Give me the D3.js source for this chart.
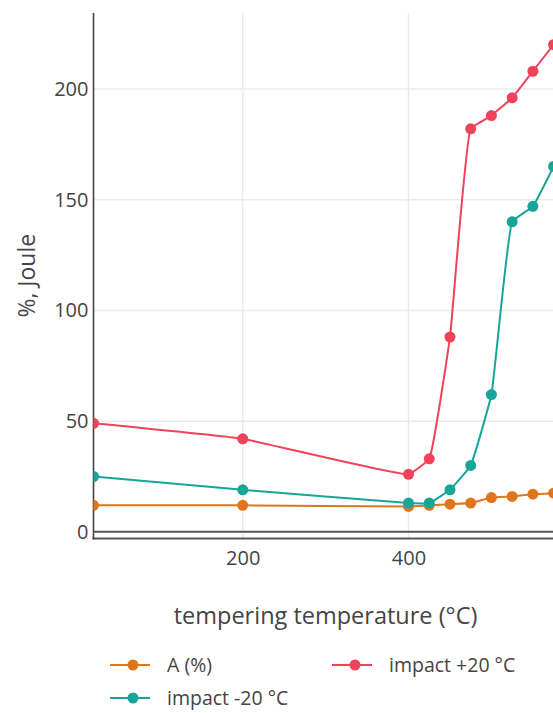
<!DOCTYPE html>
<html>
<head>
<meta charset="utf-8">
<script src="https://cdn.jsdelivr.net/npm/d3@7"></script>
<style>
  html, body { margin: 0; padding: 0; background: #fff; overflow: hidden; }
  svg { display: block; font-family: "Open Sans", sans-serif; }
</style>
</head>
<body>
<svg id="chart" width="553" height="713"></svg>
<script>
// Tempering temperature (°C)
const temps = [20, 200, 400, 425, 450, 475, 500, 525, 550, 575];
// Elongation A (%)
const elongation = [12, 12, 11.5, 12, 12.5, 13, 15.5, 16, 17, 17.5];
// Impact energy at +20 °C (J)
const impactPlus20 = [49, 42, 26, 33, 88, 182, 188, 196, 208, 220];
// Impact energy at -20 °C (J)
const impactMinus20 = [25, 19, 13, 13, 19, 30, 62, 140, 147, 165];

const xTicks = [200, 400];
const yTicks = [0, 50, 100, 150, 200];

const seriesNames = ["A (%)", "impact +20 °C", "impact -20 °C"];
const seriesColors = ["#e0761c", "#f0435a", "#16a697"];
const seriesValues = [elongation, impactPlus20, impactMinus20];

const svg = d3.select("#chart");
const plot = { left: 93.5, right: 553.6, top: 13, bottom: 538.4 };

const x = d3.scaleLinear().domain([20, 575]).range([plot.left, plot.right]);
const y = d3.scaleLinear().domain([-2.95, 234.3]).range([plot.bottom, plot.top]);

svg.append("defs").append("clipPath").attr("id", "plotClip")
  .append("rect")
  .attr("x", plot.left).attr("y", plot.top)
  .attr("width", plot.right - plot.left).attr("height", plot.bottom - plot.top);

// grid
const grid = svg.append("g");
grid.selectAll("line.gx").data(xTicks).join("line")
  .attr("x1", d => x(d)).attr("x2", d => x(d))
  .attr("y1", plot.top).attr("y2", plot.bottom)
  .attr("stroke", "#ebebeb").attr("stroke-width", 1.5);
grid.selectAll("line.gy").data(yTicks.filter(d => d !== 0)).join("line")
  .attr("x1", plot.left).attr("x2", plot.right)
  .attr("y1", d => y(d)).attr("y2", d => y(d))
  .attr("stroke", "#ebebeb").attr("stroke-width", 1.5);

// zero line
svg.append("line")
  .attr("x1", plot.left).attr("x2", plot.right + 5)
  .attr("y1", y(0)).attr("y2", y(0))
  .attr("stroke", "#555").attr("stroke-width", 2);

// axes
const xAxis = d3.axisBottom(x).tickValues(xTicks).tickSize(0).tickPadding(12).tickFormat(d3.format("d"));
const gx = svg.append("g").attr("transform", `translate(0,${plot.bottom})`).call(xAxis);
gx.select(".domain").remove();
gx.selectAll("text").attr("fill", "#444").attr("font-size", 20).attr("font-family", "Open Sans");
svg.append("line")
  .attr("x1", plot.left - 1).attr("x2", plot.right + 5)
  .attr("y1", plot.bottom).attr("y2", plot.bottom)
  .attr("stroke", "#555").attr("stroke-width", 2);

const yAxis = d3.axisLeft(y).tickValues(yTicks).tickSize(0).tickPadding(5).tickFormat(d3.format("d"));
const gy = svg.append("g").attr("transform", `translate(${plot.left},0)`).call(yAxis);
gy.select(".domain").remove();
gy.selectAll("text").attr("fill", "#444").attr("font-size", 20).attr("font-family", "Open Sans");
svg.append("line")
  .attr("x1", plot.left).attr("x2", plot.left)
  .attr("y1", plot.top).attr("y2", plot.bottom + 1)
  .attr("stroke", "#444").attr("stroke-width", 1.6);

// axis titles
svg.append("text")
  .attr("x", (plot.left + plot.right) / 2 + 2).attr("y", 624)
  .attr("text-anchor", "middle").attr("fill", "#444").attr("font-size", 23.5)
  .text("tempering temperature (°C)");
svg.append("text")
  .attr("transform", `translate(35,${(plot.top + plot.bottom) / 2}) rotate(-90)`)
  .attr("text-anchor", "middle").attr("fill", "#444").attr("font-size", 23)
  .text("%, Joule");

// Lightly smoothed spline through points: Catmull-Rom style tangents,
// quadratic end segments, cubic segments between interior points.
function splinePath(pts, smoothness) {
  if (pts.length < 3) return "M" + pts.join("L");
  const tangent = (p0, p1, p2) => {
    const d1x = p0[0] - p1[0], d1y = p0[1] - p1[1];
    const d2x = p2[0] - p1[0], d2y = p2[1] - p1[1];
    const d1a = Math.pow(d1x * d1x + d1y * d1y, 0.25);
    const d2a = Math.pow(d2x * d2x + d2y * d2y, 0.25);
    const nx = (d2a * d2a * d1x - d1a * d1a * d2x) * smoothness;
    const ny = (d2a * d2a * d1y - d1a * d1a * d2y) * smoothness;
    const den1 = 3 * d2a * (d1a + d2a);
    const den2 = 3 * d1a * (d1a + d2a);
    return [
      [p1[0] + (den1 && nx / den1), p1[1] + (den1 && ny / den1)],
      [p1[0] - (den2 && nx / den2), p1[1] - (den2 && ny / den2)]
    ];
  };
  const t = [];
  for (let i = 1; i < pts.length - 1; i++) t.push(tangent(pts[i - 1], pts[i], pts[i + 1]));
  let p = "M" + pts[0] + "Q" + t[0][0] + " " + pts[1];
  for (let i = 2; i < pts.length - 1; i++) {
    p += "C" + t[i - 2][1] + " " + t[i - 1][0] + " " + pts[i];
  }
  p += "Q" + t[pts.length - 3][1] + " " + pts[pts.length - 1];
  return p;
}

// series
const plotG = svg.append("g").attr("clip-path", "url(#plotClip)");
seriesValues.forEach((vals, i) => {
  const pts = temps.map((t, j) => [t, vals[j]]);
  const g = plotG.append("g");
  g.append("path")
    .attr("d", splinePath(pts.map(d => [x(d[0]), y(d[1])]), 0.3))
    .attr("fill", "none")
    .attr("stroke", seriesColors[i]).attr("stroke-width", 2);
  g.selectAll("circle").data(pts).join("circle")
    .attr("cx", d => x(d[0])).attr("cy", d => y(d[1])).attr("r", 5.5)
    .attr("fill", seriesColors[i]);
});

// legend
const legendPos = [[110, 665], [332, 665], [110, 698]];
seriesNames.forEach((name, i) => {
  const [lx, ly] = legendPos[i];
  const g = svg.append("g").attr("transform", `translate(${lx},${ly})`);
  g.append("line").attr("x1", 0).attr("x2", 40).attr("y1", 0).attr("y2", 0)
    .attr("stroke", seriesColors[i]).attr("stroke-width", 2);
  g.append("circle").attr("cx", 23).attr("cy", 0).attr("r", 5.5).attr("fill", seriesColors[i]);
  g.append("text").attr("x", 57).attr("y", 0).attr("dy", "0.35em")
    .attr("fill", "#444").attr("font-size", 19.5).text(name);
});
</script>
</body>
</html>
